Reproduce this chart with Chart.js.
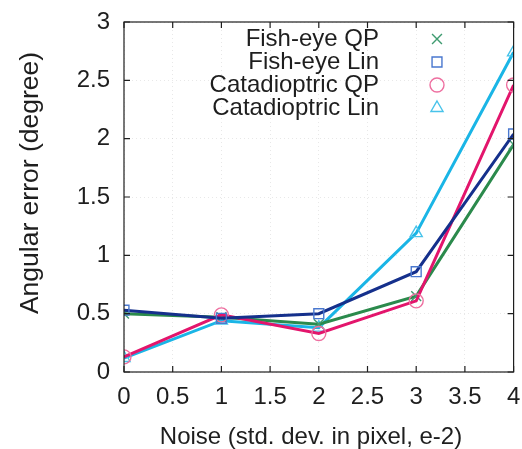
<!DOCTYPE html>
<html>
<head>
<meta charset="utf-8">
<script src="https://cdn.jsdelivr.net/npm/chart.js@4/dist/chart.umd.min.js"></script>
<style>
    html, body { margin: 0; padding: 0; background: #ffffff; }
    #wrap { width: 522px; height: 449px; }
</style>
</head>
<body>
<div id="wrap"><canvas id="errorChart" width="522" height="449"></canvas></div>
<script>
// noise levels (std. dev. in pixel, e-2)
const noiseLevels = [0, 1, 2, 3, 4];

// angular error in degrees per method
const fishEyeQP = [0.50, 0.47, 0.41, 0.65, 1.95];
const fishEyeLin = [0.53, 0.46, 0.50, 0.86, 2.04];
const catadioptricQP = [0.13, 0.49, 0.33, 0.61, 2.46];
const catadioptricLin = [0.12, 0.44, 0.38, 1.19, 2.74];

const seriesNames = ['Fish-eye QP', 'Fish-eye Lin', 'Catadioptric QP', 'Catadioptric Lin'];

const xTicks = [0, 0.5, 1, 1.5, 2, 2.5, 3, 3.5, 4];
const yTicks = [0, 0.5, 1, 1.5, 2, 2.5, 3];

const xTitle = 'Noise (std. dev. in pixel, e-2)';
const yTitle = 'Angular error (degree)';

const fontFamily = '"Liberation Sans", Arial, sans-serif';
const inkColor = '#1e1e1e';
const gridColor = 'rgba(0,0,0,0.09)';

const toPoints = (values) => values.map((v, i) => ({ x: noiseLevels[i], y: v }));

const makeSeries = (label, values, lineColor, markColor, pointStyle, order) => ({
    label,
    data: toPoints(values),
    borderColor: lineColor,
    borderWidth: 3,
    pointStyle,
    pointRadius: 7,
    pointBorderWidth: 1.4,
    pointBorderColor: markColor,
    pointBackgroundColor: 'rgba(0,0,0,0)',
    markColor,
    order,
    tension: 0,
});

// box frame with inward ticks on all four sides, axis titles and the key
const framePlugin = {
    id: 'frame',
    afterDraw(chart) {
        const { ctx, chartArea: a, scales } = chart;
        const tick = 6;

        ctx.save();
        ctx.strokeStyle = inkColor;
        ctx.lineWidth = 1.2;
        ctx.strokeRect(a.left, a.top, a.right - a.left, a.bottom - a.top);

        ctx.beginPath();
        xTicks.forEach((v) => {
            const px = scales.x.getPixelForValue(v);
            ctx.moveTo(px, a.bottom);
            ctx.lineTo(px, a.bottom - tick);
            ctx.moveTo(px, a.top);
            ctx.lineTo(px, a.top + tick);
        });
        yTicks.forEach((v) => {
            const py = scales.y.getPixelForValue(v);
            ctx.moveTo(a.left, py);
            ctx.lineTo(a.left + tick, py);
            ctx.moveTo(a.right, py);
            ctx.lineTo(a.right - tick, py);
        });
        ctx.stroke();

        ctx.fillStyle = inkColor;
        ctx.textAlign = 'center';
        ctx.textBaseline = 'middle';
        ctx.font = '24px ' + fontFamily;
        ctx.fillText(xTitle, 311, 437);

        ctx.save();
        ctx.translate(31, 183);
        ctx.rotate(-Math.PI / 2);
        ctx.font = '26.5px ' + fontFamily;
        ctx.fillText(yTitle, 0, 0);
        ctx.restore();

        // key: right-aligned names with a marker sample
        ctx.font = '24px ' + fontFamily;
        ctx.textAlign = 'right';
        chart.data.datasets.forEach((ds, i) => {
            const y = 39 + i * 23;
            ctx.fillStyle = inkColor;
            ctx.fillText(ds.label, 379, y);

            ctx.strokeStyle = ds.markColor;
            ctx.lineWidth = 1.4;
            ctx.fillStyle = 'rgba(0,0,0,0)';
            Chart.helpers.drawPoint(ctx, {
                pointStyle: ds.pointStyle,
                radius: 7,
                borderWidth: 1.4,
                rotation: 0,
            }, 437, y);
        });
        ctx.restore();
    },
};

const tickLabel = (value) => String(value);

new Chart(document.getElementById('errorChart'), {
    type: 'line',
    data: {
        datasets: [
            makeSeries(seriesNames[0], fishEyeQP, '#2b8a4c', '#3f9b70', 'crossRot', 2),
            makeSeries(seriesNames[1], fishEyeLin, '#15308c', '#4a78cf', 'rect', 0),
            makeSeries(seriesNames[2], catadioptricQP, '#e3156c', '#ee6fa0', 'circle', 1),
            makeSeries(seriesNames[3], catadioptricLin, '#1ab5e6', '#48c3ea', 'triangle', 3),
        ],
    },
    options: {
        responsive: false,
        animation: false,
        layout: {
            padding: { left: 10, right: 8, top: 22, bottom: 0 },
        },
        plugins: {
            legend: { display: false },
            tooltip: { enabled: false },
        },
        scales: {
            x: {
                type: 'linear',
                min: 0,
                max: 4,
                afterFit(scale) {
                    scale.height = 77;
                    scale.paddingLeft = 0;
                    scale.paddingRight = 0;
                },
                afterBuildTicks(scale) {
                    scale.ticks = xTicks.map((v) => ({ value: v }));
                },
                grid: {
                    color: gridColor,
                    drawTicks: false,
                },
                border: {
                    display: false,
                    dash: [1, 3],
                },
                ticks: {
                    color: inkColor,
                    padding: 13,
                    callback: tickLabel,
                    font: { family: fontFamily, size: 24, lineHeight: 1.0 },
                },
            },
            y: {
                type: 'linear',
                min: 0,
                max: 3,
                afterFit(scale) {
                    scale.width = 114;
                    scale.paddingTop = 0;
                    scale.paddingBottom = 0;
                },
                afterBuildTicks(scale) {
                    scale.ticks = yTicks.map((v) => ({ value: v }));
                },
                grid: {
                    color: gridColor,
                    drawTicks: false,
                },
                border: {
                    display: false,
                    dash: [1, 3],
                },
                ticks: {
                    color: inkColor,
                    padding: 14,
                    callback: tickLabel,
                    font: { family: fontFamily, size: 24, lineHeight: 1.0 },
                },
            },
        },
    },
    plugins: [framePlugin],
});
</script>
</body>
</html>
